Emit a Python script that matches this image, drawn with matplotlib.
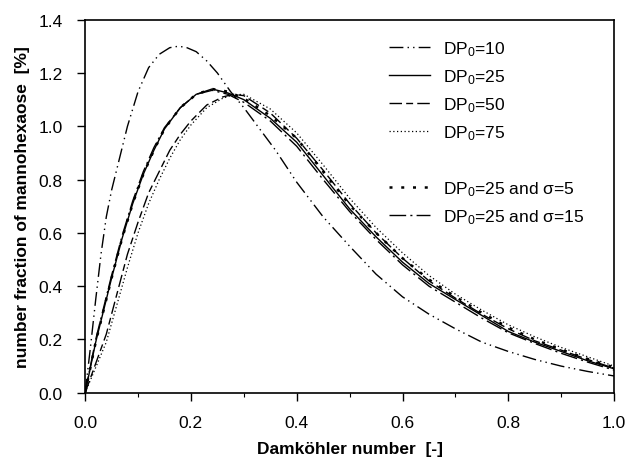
import matplotlib
matplotlib.use("Agg")
import matplotlib.pyplot as plt
from matplotlib.ticker import MultipleLocator

plt.rcParams["font.family"] = ["Liberation Sans", "DejaVu Sans"]
plt.rcParams["mathtext.fontset"] = "custom"
plt.rcParams["mathtext.rm"] = "Liberation Sans"
plt.rcParams["mathtext.it"] = "Liberation Sans:italic"

# DP0=10 curve (early, tall peak)
x10 = [0, 0.01, 0.02, 0.03, 0.04, 0.05, 0.06, 0.08, 0.10, 0.12, 0.14, 0.16, 0.175,
       0.19, 0.21, 0.23, 0.25, 0.275, 0.30, 0.33, 0.36, 0.40, 0.45, 0.50, 0.55,
       0.60, 0.65, 0.70, 0.75, 0.80, 0.85, 0.90, 0.95, 1.0]
y10 = [0, 0.17, 0.35, 0.52, 0.66, 0.76, 0.84, 1.0, 1.13, 1.22, 1.27, 1.295, 1.30,
       1.297, 1.28, 1.245, 1.20, 1.13, 1.07, 0.99, 0.91, 0.79, 0.66, 0.55, 0.445,
       0.36, 0.295, 0.24, 0.19, 0.155, 0.125, 0.10, 0.08, 0.063]

# DP0=25 family shares one x grid
xa = [0, 0.01, 0.02, 0.03, 0.05, 0.07, 0.09, 0.11, 0.13, 0.15, 0.18, 0.21, 0.24,
      0.27, 0.30, 0.35, 0.40, 0.45, 0.50, 0.55, 0.60, 0.65, 0.70, 0.75, 0.80,
      0.85, 0.90, 0.95, 1.0]
y25 = [0, 0.095, 0.19, 0.27, 0.43, 0.58, 0.71, 0.82, 0.91, 0.99, 1.07, 1.12, 1.14,
       1.125, 1.10, 1.03, 0.94, 0.815, 0.69, 0.585, 0.49, 0.41, 0.35, 0.29, 0.23,
       0.19, 0.155, 0.12, 0.09]
y25s5 = [0, 0.095, 0.19, 0.27, 0.43, 0.58, 0.71, 0.82, 0.91, 0.99, 1.07, 1.12, 1.14,
         1.13, 1.105, 1.04, 0.955, 0.83, 0.705, 0.60, 0.505, 0.425, 0.36, 0.30,
         0.245, 0.20, 0.162, 0.127, 0.095]
y25s15 = [0, 0.10, 0.20, 0.28, 0.44, 0.59, 0.72, 0.83, 0.92, 0.995, 1.07, 1.12, 1.135,
          1.12, 1.09, 1.02, 0.925, 0.80, 0.68, 0.575, 0.48, 0.40, 0.34, 0.28, 0.225,
          0.185, 0.148, 0.115, 0.085]

# DP0=50 and 75 (later, slightly lower peak)
xb = [0, 0.02, 0.04, 0.06, 0.08, 0.10, 0.12, 0.14, 0.16, 0.18, 0.20, 0.23, 0.26,
      0.28, 0.30, 0.35, 0.40, 0.45, 0.50, 0.55, 0.60, 0.65, 0.70, 0.75, 0.80,
      0.85, 0.90, 0.95, 1.0]
y50 = [0, 0.11, 0.22, 0.37, 0.52, 0.64, 0.75, 0.83, 0.91, 0.97, 1.02, 1.08, 1.11,
       1.12, 1.115, 1.05, 0.955, 0.835, 0.71, 0.60, 0.505, 0.42, 0.355, 0.295,
       0.24, 0.195, 0.16, 0.125, 0.092]
y75 = [0, 0.095, 0.19, 0.33, 0.47, 0.60, 0.71, 0.80, 0.88, 0.95, 1.005, 1.07, 1.105,
       1.118, 1.12, 1.065, 0.975, 0.855, 0.73, 0.62, 0.525, 0.44, 0.37, 0.31,
       0.255, 0.21, 0.17, 0.135, 0.10]

fig = plt.figure(figsize=(6.26, 4.6), dpi=100)
ax = fig.add_axes([0.136, 0.144, 0.845, 0.811])

ax.plot(x10, y10, color="black", lw=1.0, ls=(0, (10, 3, 1, 3, 1, 3)), label="DP$_0$=10")
ax.plot(xa, y25, color="black", lw=1.0, ls="-", label="DP$_0$=25")
ax.plot(xb, y50, color="black", lw=1.0, ls=(0, (9, 3, 5, 3)), label="DP$_0$=50")
ax.plot(xb, y75, color="black", lw=0.9, ls=(0, (1, 2)), label="DP$_0$=75")
ax.plot([], [], color="none", label="DP$_0$")  # spacer row, text hidden below
ax.plot(xa, y25s5, color="black", lw=1.8, ls=(0, (1.2, 3.5)), label="DP$_0$=25 and σ=5")
ax.plot(xa, y25s15, color="black", lw=1.0, ls=(0, (12, 3, 1.5, 3)), label="DP$_0$=25 and σ=15")

ax.set_xlim(0, 1.0)
ax.set_ylim(0, 1.4)
ax.xaxis.set_major_locator(MultipleLocator(0.2))
ax.xaxis.set_minor_locator(MultipleLocator(0.1))
ax.yaxis.set_major_locator(MultipleLocator(0.2))
ax.tick_params(which="both", direction="out", top=False, right=False, labelsize=12.5)
ax.tick_params(which="major", length=6, width=1.0)
ax.tick_params(which="minor", length=3, width=0.8)
ax.tick_params(axis="x", which="major", pad=10)
ax.tick_params(axis="y", which="major", pad=10)
for s in ax.spines.values():
    s.set_linewidth(1.2)

ax.set_xlabel("Damköhler number  [-]", fontsize=12.5, fontweight="bold", labelpad=8)
ax.set_ylabel("number fraction of mannohexaose  [%]", fontsize=12.5, fontweight="bold", labelpad=6)

leg = ax.legend(loc="upper left", frameon=False, fontsize=12.5, handlelength=2.4,
                handletextpad=0.7, labelspacing=0.54, borderpad=0, borderaxespad=0,
                bbox_to_anchor=(0.574, 0.948))
leg.get_texts()[4].set_alpha(0)

fig.savefig("out.png", dpi=100)
